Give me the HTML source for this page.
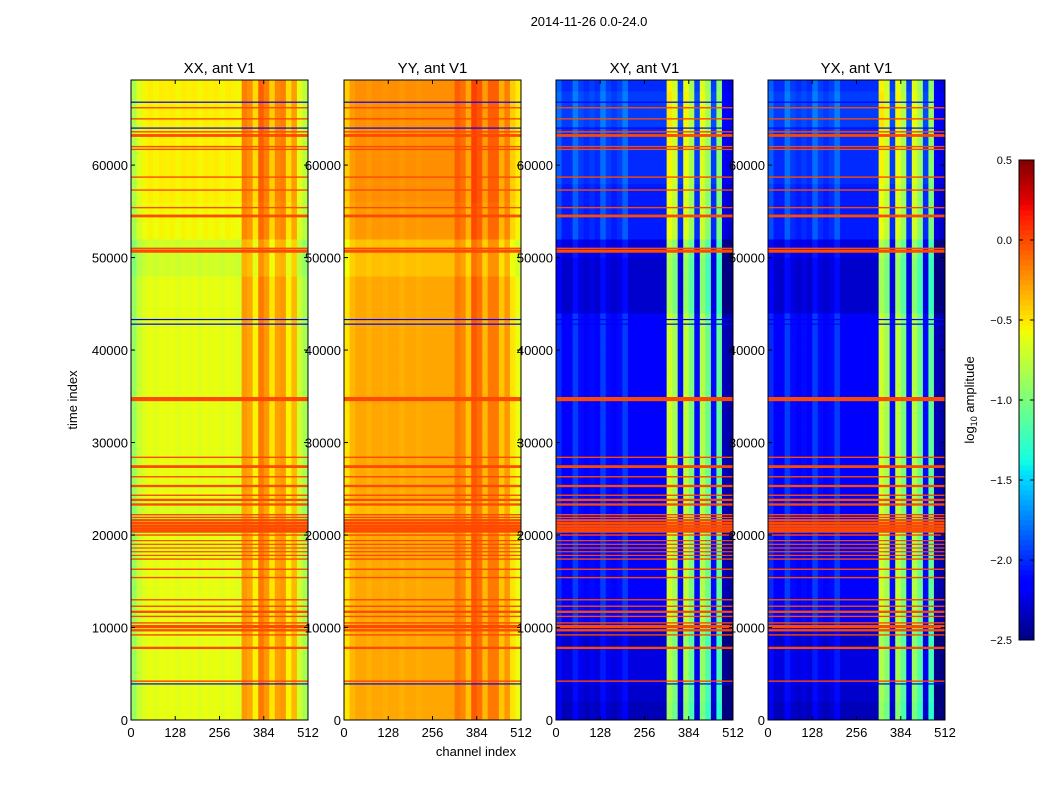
<!DOCTYPE html>
<html><head><meta charset="utf-8"><style>
html,body{margin:0;padding:0;background:#fff;}
svg{display:block;font-family:"Liberation Sans","DejaVu Sans",sans-serif;}
</style></head><body>
<svg id="fig" width="1050" height="800" viewBox="0 0 1050 800">
<text x="589" y="26" font-size="13" text-anchor="middle">2014-11-26 0.0-24.0</text>
<text x="476" y="756" font-size="13" text-anchor="middle">channel index</text>
<text transform="translate(77,400) rotate(-90)" font-size="13" text-anchor="middle">time index</text>
<text transform="translate(974,400) rotate(-90)" font-size="13" text-anchor="middle">log<tspan font-size="9" dy="3">10</tspan><tspan dy="-3"> amplitude</tspan></text>
<g id="panels"></g>
<g id="cbar"></g>
</svg>
<script>
// ---- data ----
const panelTitles = ["XX, ant V1","YY, ant V1","XY, ant V1","YX, ant V1"];
const xTicks = [0,128,256,384,512];
const yTicks = [0,10000,20000,30000,40000,50000,60000];
const cbTicks = [0.5,0.0,-0.5,-1.0,-1.5,-2.0,-2.5];
const cbTickLabels = ["0.5","0.0","\u22120.5","\u22121.0","\u22121.5","\u22122.0","\u22122.5"];
// channel profiles, 32 bins of 16 channels (log10 amplitude)
const profXX = [-0.9,-0.72,-0.64,-0.6,-0.64,-0.6,-0.62,-0.6,-0.64,-0.6,-0.62,-0.6,-0.64,-0.6,-0.62,-0.6,-0.64,-0.6,-0.62,-0.64,-0.25,-0.3,-0.55,-0.15,-0.25,-0.5,-0.28,-0.25,-0.55,-0.35,-0.7,-0.85];
const profYY = [-0.5,-0.35,-0.3,-0.3,-0.33,-0.3,-0.3,-0.32,-0.3,-0.3,-0.33,-0.3,-0.3,-0.32,-0.3,-0.3,-0.3,-0.3,-0.3,-0.3,-0.15,-0.2,-0.38,-0.05,-0.12,-0.35,-0.15,-0.15,-0.4,-0.25,-0.5,-0.6];
const profXY = [-2.0,-2.15,-2.15,-1.95,-2.1,-2.15,-2.1,-2.15,-1.95,-2.1,-2.15,-2.1,-1.95,-2.15,-2.15,-2.15,-2.15,-2.15,-2.15,-2.15,-0.7,-0.85,-2.1,-0.75,-1.0,-2.1,-0.8,-1.05,-2.1,-1.1,-2.35,-2.4];
const profYX = [-2.0,-2.15,-2.15,-1.95,-2.1,-2.15,-2.1,-2.15,-1.95,-2.1,-2.15,-2.1,-1.95,-2.15,-2.15,-2.15,-2.15,-2.15,-2.15,-2.15,-0.7,-0.85,-2.1,-0.75,-1.0,-2.1,-0.8,-1.05,-2.1,-1.1,-2.35,-2.4];
// time-segment offsets, 35 segments of 2000 time indices
const offAuto = [0,0,0,0,0,0,0,0,0,0,-0.05,-0.05,0,0,0,0,0,0,0,0,0,0,0,0,-0.08,-0.08,0.05,0.05,0.08,0.08,0.08,0.08,0.08,0.08,0.08];
const offCross = [-0.2,-0.15,-0.1,-0.1,-0.15,0,0,0,0,0,0,0,0,0,0,0,0,0,0,0,0,0,-0.15,-0.15,-0.15,-0.1,0.1,0.1,0.1,0.15,0.15,0.15,0.2,0.2,0.15];
// flagged rows (orange lines): time index and thickness in time units
const flagT = [4200,7800,9200,9700,10100,10500,11200,11700,12300,13000,15400,16300,17400,17800,18200,18600,19000,19400,20000,20400,20700,21000,21300,21600,21900,22200,23300,23800,24300,25300,26300,27400,28400,34700,50700,51000,54500,55400,57300,58700,61700,62000,63200,63600,65000,66200];
const flagW = [150,250,150,250,350,150,150,250,150,150,150,150,150,120,120,120,120,120,150,300,300,300,250,250,150,150,250,250,150,250,150,300,150,450,350,150,300,150,150,150,150,150,300,150,150,150];
const blueT = [3900,42800,43300,64000,66800];
const flagVal = 0.0, blueVal = -2.2;
const profiles = [profXX,profYY,profXY,profYX];
const offsets = [offAuto,offAuto,offCross,offCross];

// ---- layout ----
const NS="http://www.w3.org/2000/svg";
const panelX=[131,344,556,768], pw=177, plotTop=80, plotBot=720, tMax=69200;
function yScale(t){return plotBot-(t/tMax)*(plotBot-plotTop);}
function xScale(px,c){return px+(c/512)*pw;}
const JR=[[0,0],[0.35,0],[0.66,1],[0.89,1],[1,0.5]];
const JG=[[0,0],[0.125,0],[0.375,1],[0.64,1],[0.91,0],[1,0]];
const JB=[[0,0.5],[0.11,1],[0.34,1],[0.65,0],[1,0]];
function seg(s,x){for(let i=1;i<s.length;i++){if(x<=s[i][0]){const a=s[i-1],b=s[i];return a[1]+(b[1]-a[1])*(x-a[0])/(b[0]-a[0]);}}return s[s.length-1][1];}
function jet(v){let x=(v+2.5)/3;x=Math.max(0,Math.min(1,x));
 return `rgb(${Math.round(seg(JR,x)*255)},${Math.round(seg(JG,x)*255)},${Math.round(seg(JB,x)*255)})`;}
function el(tag,attrs,parent){const e=document.createElementNS(NS,tag);for(const k in attrs)e.setAttribute(k,attrs[k]);parent.appendChild(e);return e;}
const G=document.getElementById('panels');
panelTitles.forEach((title,p)=>{
 const px=panelX[p];
 const g=el('g',{},G);
 
 
 const prof=profiles[p], off=offsets[p];
 off.forEach((o,s)=>{
  const y0=yScale(Math.min((s+1)*2000,tMax)), y1=yScale(s*2000);
  prof.forEach((v,c)=>{
   const r=el('rect',{x:xScale(px,c*16).toFixed(2),y:y0.toFixed(2),width:(pw/32+0.4).toFixed(2),height:(y1-y0+0.4).toFixed(2),fill:jet(v+o)},g);
   
   
  });
 });
 flagT.forEach((t,i)=>{
  const y0=yScale(t+flagW[i]/2), y1=yScale(t-flagW[i]/2);
  const r=el('rect',{x:px,y:y0.toFixed(2),width:pw,height:Math.max(1.2,y1-y0).toFixed(2),fill:jet(flagVal)},g);
  
  
 });
 blueT.forEach(t=>{
  const r=el('rect',{x:px,y:(yScale(t)-0.6).toFixed(2),width:pw,height:1.2,fill:jet(blueVal)},g);
  
  
 });
 el('rect',{x:px,y:plotTop,width:pw,height:plotBot-plotTop,fill:'none',stroke:'#000','stroke-width':1},g);
 const tt=el('text',{x:px+pw/2,y:73,'font-size':15,'text-anchor':'middle'},g);tt.textContent=title;
 
 
 xTicks.forEach(v=>{const x=xScale(px,v);
  el('line',{x1:x,x2:x,y1:plotBot,y2:plotBot-4,stroke:'#000'},g);el('line',{x1:x,x2:x,y1:plotTop,y2:plotTop+4,stroke:'#000'},g);
  const t=el('text',{x:x,y:737,'font-size':13,'text-anchor':'middle'},g);t.textContent=v;
  
  });
 yTicks.forEach(v=>{const y=yScale(v);
  el('line',{x1:px,x2:px+4,y1:y,y2:y,stroke:'#000'},g);el('line',{x1:px+pw,x2:px+pw-4,y1:y,y2:y,stroke:'#000'},g);
  const t=el('text',{x:px-3,y:y+5,'font-size':13,'text-anchor':'end'},g);t.textContent=v;
  
  });
});
// colorbar
const C=document.getElementById('cbar');
const cx=1019,cw=15,ct=160,cb=640;
function cbY(v){return cb-(v+2.5)/3*(cb-ct);}
for(let i=0;i<96;i++){const v=-2.5+3*(i+0.5)/96;
 const r=el('rect',{x:cx,y:(cbY(-2.5+3*(i+1)/96)).toFixed(2),width:cw,height:(5.3).toFixed(2),fill:jet(v)},C);
 
 }
el('rect',{x:cx,y:ct,width:cw,height:cb-ct,fill:'none',stroke:'#000'},C);
cbTicks.forEach((v,i)=>{const y=cbY(v);
 el('line',{x1:cx,x2:cx+4,y1:y,y2:y,stroke:'#000'},C);el('line',{x1:cx+cw,x2:cx+cw-4,y1:y,y2:y,stroke:'#000'},C);
 const t=el('text',{x:1012,y:y+4,'font-size':11,'text-anchor':'end'},C);t.textContent=cbTickLabels[i];
 
 });
</script>
</body></html>
